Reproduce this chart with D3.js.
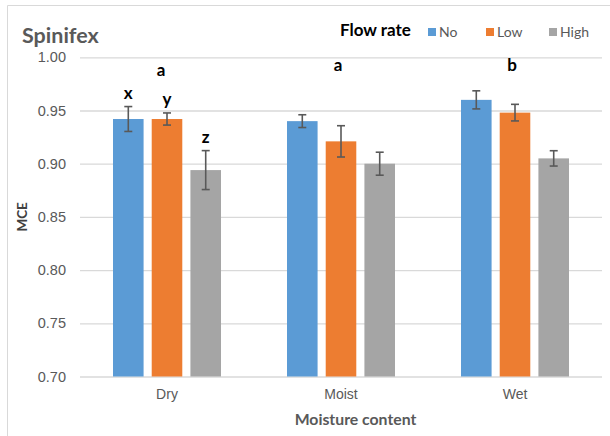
<!DOCTYPE html>
<html>
<head>
<meta charset="utf-8">
<script src="https://cdn.jsdelivr.net/npm/d3@7"></script>
<style>
  html, body { margin: 0; padding: 0; background: #fff; }
  svg { display: block; font-family: Lato, "Open Sans", sans-serif; }
</style>
</head>
<body>
<svg id="chart" width="610" height="436"></svg>
<script>
// Moisture content groups and flow-rate series
const categories = ["Dry", "Moist", "Wet"];
const seriesNames = ["No", "Low", "High"];
const seriesColors = ["#5b9bd5", "#ed7d31", "#a5a5a5"];

// Mean MCE per group, one array per flow rate
const valuesNo   = [0.942, 0.940, 0.960];
const valuesLow  = [0.942, 0.921, 0.948];
const valuesHigh = [0.894, 0.900, 0.905];

// Error bar half-widths
const errorsNo   = [0.0117, 0.0060, 0.0085];
const errorsLow  = [0.0057, 0.0147, 0.0078];
const errorsHigh = [0.0183, 0.0108, 0.0072];

// Significance letters: per-bar letters (Dry only) and group letters
const barLetters = [["x", "y", "z"], null, null];
const groupLetters = ["a", "a", "b"];

const yTicks = [0.70, 0.75, 0.80, 0.85, 0.90, 0.95, 1.00];

const seriesValues = [valuesNo, valuesLow, valuesHigh];
const seriesErrors = [errorsNo, errorsLow, errorsHigh];

const svg = d3.select("#chart");

const plot = { left: 80, right: 602, top: 57.3, bottom: 376.5 };

const x0 = d3.scaleBand().domain(categories).range([plot.left, plot.right]).paddingInner(0).paddingOuter(0);
// inner band: bars about 30 px wide with ~8 px gaps, centered in each category
const groupWidth = 108;
const x1 = d3.scaleBand().domain(seriesNames).range([0, groupWidth]).paddingInner(0.21).paddingOuter(0);
const y = d3.scaleLinear().domain([0.70, 1.00]).range([plot.bottom, plot.top]);

// chart frame
svg.append("line").attr("x1", 7.5).attr("x2", 7.5).attr("y1", 5.5).attr("y2", 436).attr("stroke", "#d9d9d9").attr("stroke-width", 1);
svg.append("line").attr("x1", 7.5).attr("x2", 610).attr("y1", 5.5).attr("y2", 5.5).attr("stroke", "#d9d9d9").attr("stroke-width", 1);

// gridlines and y tick labels
const yAxis = d3.axisLeft(y).tickValues(yTicks).tickFormat(d3.format(".2f")).tickSize(-(plot.right - plot.left)).tickPadding(14);
const gy = svg.append("g").attr("transform", `translate(${plot.left},0)`).call(yAxis);
gy.select(".domain").remove();
gy.selectAll(".tick line").attr("stroke", "#d9d9d9").attr("stroke-width", 1.3);
gy.selectAll(".tick text").attr("fill", "#595959").attr("font-size", 14.5);

// x axis labels
const xAxis = d3.axisBottom(x0).tickSize(0).tickPadding(13);
const gx = svg.append("g").attr("transform", `translate(0,${plot.bottom})`).call(xAxis);
gx.select(".domain").remove();
gx.selectAll(".tick text").attr("fill", "#595959").attr("font-size", 14);

// bars
const groups = svg.append("g").selectAll("g").data(categories).join("g")
  .attr("transform", c => `translate(${x0(c) + (x0.bandwidth() - groupWidth) / 2},0)`);

groups.each(function (cat, ci) {
  const g = d3.select(this);
  seriesNames.forEach((s, si) => {
    const v = seriesValues[si][ci];
    const e = seriesErrors[si][ci];
    const bx = x1(s);
    const bw = x1.bandwidth();
    g.append("rect")
      .attr("x", bx).attr("y", y(v))
      .attr("width", bw).attr("height", y(0.70) - y(v))
      .attr("fill", seriesColors[si]);
    const cx = bx + bw / 2;
    const eb = g.append("g").attr("stroke", "#595959").attr("stroke-width", 1.6);
    eb.append("line").attr("x1", cx).attr("x2", cx).attr("y1", y(v + e)).attr("y2", y(v - e));
    eb.append("line").attr("x1", cx - 4).attr("x2", cx + 4).attr("y1", y(v + e)).attr("y2", y(v + e));
    eb.append("line").attr("x1", cx - 4).attr("x2", cx + 4).attr("y1", y(v - e)).attr("y2", y(v - e));
    if (barLetters[ci]) {
      g.append("text")
        .attr("x", cx).attr("y", y(v + e) - 8)
        .attr("text-anchor", "middle")
        .attr("font-weight", "bold").attr("font-size", 17).attr("fill", "#000")
        .text(barLetters[ci][si]);
    }
  });
});

// group letters
svg.append("g").selectAll("text").data(categories).join("text")
  .attr("x", (c, i) => x0(c) + x0.bandwidth() / 2 + (i === 0 ? -6 : -3))
  .attr("y", (c, i) => i === 0 ? 76 : 71)
  .attr("text-anchor", "middle")
  .attr("font-weight", "bold").attr("font-size", 17).attr("fill", "#000")
  .text((c, i) => groupLetters[i]);

// title
svg.append("text").attr("x", 22).attr("y", 43)
  .attr("font-weight", "bold").attr("font-size", 21.5).attr("fill", "#595959")
  .text("Spinifex");

// axis titles
svg.append("text")
  .attr("transform", `translate(27,${(plot.top + plot.bottom) / 2}) rotate(-90)`)
  .attr("text-anchor", "middle")
  .attr("font-weight", "bold").attr("font-size", 13.5).attr("fill", "#404040")
  .text("MCE");
svg.append("text").attr("x", 355.5).attr("y", 425)
  .attr("text-anchor", "middle")
  .attr("font-weight", "bold").attr("font-size", 15.8).attr("fill", "#595959")
  .text("Moisture content");

// legend
svg.append("text").attr("x", 340).attr("y", 36)
  .attr("font-weight", "bold").attr("font-size", 17).attr("fill", "#000")
  .text("Flow rate");
const legendX = [428, 486, 549];
const leg = svg.append("g").selectAll("g").data(seriesNames).join("g")
  .attr("transform", (d, i) => `translate(${legendX[i]},28)`);
leg.append("rect").attr("width", 8).attr("height", 8).attr("fill", (d, i) => seriesColors[i]);
leg.append("text").attr("x", 11).attr("y", 8.5)
  .attr("font-size", 14).attr("fill", "#595959")
  .text(d => d);
</script>
</body>
</html>
